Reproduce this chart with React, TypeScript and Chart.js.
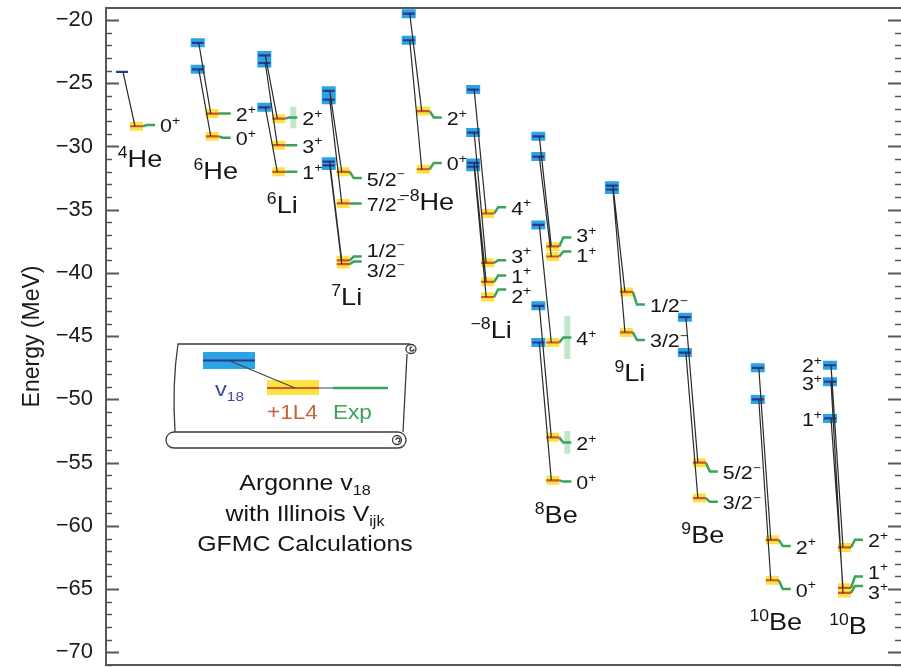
import React, { useEffect, useRef } from 'react';
import { Chart, registerables } from 'chart.js';

Chart.register(...registerables);

// ---------------- data ----------------
const nucleusMass = ['4', '6', '6', '7', '−8', '−8', '8', '9', '9', '10', '10'];
const nucleusSymbol = ['He', 'He', 'Li', 'Li', 'He', 'Li', 'Be', 'Li', 'Be', 'Be', 'B'];
// position of each nucleus on the (hidden) horizontal axis
const nucleusX = [0, 1.07, 2.01, 2.92, 4.05, 4.96, 5.88, 6.92, 7.95, 8.98, 10];

const levelNucleus = [0, 1, 1, 2, 2, 2, 3, 3, 3, 3, 4, 4, 5, 5, 5, 5, 6, 6, 6, 6, 6, 7, 7, 8, 8, 9, 9, 10, 10, 10];
const levelSpin = ['0+', '2+', '0+', '2+', '3+', '1+', '5/2-', '7/2-', '1/2-', '3/2-', '2+', '0+', '4+', '3+', '1+', '2+', '3+', '1+', '4+', '2+', '0+', '1/2-', '3/2-', '5/2-', '3/2-', '2+', '0+', '2+', '1+', '3+'];
const v18Energy = [-24.1, -21.8, -23.9, -22.8, -23.4, -26.9, -25.6, -26.3, -31.2, -31.5, -19.5, -21.6, -25.5, -28.9, -31.3, -31.6, -29.2, -30.8, -36.2, -42.6, -45.5, -33.1, -33.4, -43.5, -46.3, -47.5, -50.0, -47.3, -51.5, -48.6];
const v18Error = [0, 0.35, 0.35, 0.35, 0.35, 0.35, 0.35, 0.35, 0.35, 0.35, 0.35, 0.35, 0.35, 0.35, 0.35, 0.35, 0.35, 0.35, 0.35, 0.35, 0.35, 0.35, 0.35, 0.35, 0.35, 0.35, 0.35, 0.35, 0.35, 0.35];
const il4Energy = [-28.4, -27.4, -29.2, -27.8, -29.9, -32.0, -32.0, -34.5, -39.0, -39.3, -27.2, -31.8, -35.3, -39.2, -40.7, -41.9, -37.9, -38.7, -45.5, -53.0, -56.4, -41.5, -44.7, -55.0, -57.8, -61.1, -64.3, -61.7, -64.9, -65.3];
const expEnergy = [-28.3, -27.4, -29.3, -27.7, -29.9, -32.0, -32.5, -34.5, -38.7, -39.1, -27.7, -31.3, -34.8, -39.0, -40.2, -41.3, -37.2, -38.3, -45.1, -53.4, -56.5, -42.5, -45.3, -55.7, -58.1, -61.6, -65.0, -61.1, -64.0, -64.75];
const expWidth = [0, 0, 0, 1.7, 0, 0, 0, 0, 0, 0, 0, 0, 0, 0, 0, 0, 0, 0, 3.4, 1.8, 0, 0, 0, 0, 0, 0, 0, 0, 0, 0];
const v18LabelledNuclei = [10];
const energyTicks = [-70, -65, -60, -55, -50, -45, -40, -35, -30, -25, -20];

// ---------------- layout / style constants ----------------
const FONT = "'Liberation Sans', Arial, Helvetica, sans-serif";
const SX = 1.13; // horizontal stretch of the lettering
const PXU = 70.8; // pixels per unit on the hidden x axis
const X_MIN = -16 / PXU;
const X_MAX = 10 + 71 / PXU;
const Y_MIN = -71;
const Y_MAX = -19.05;
const off = (px: number) => px / PXU;
const INSET_X = off(178 - 122);
const INSET_Y = -45.62;

type Pt = { x: number; y: number | null };

function segs(list: number[][]): Pt[] {
  const out: Pt[] = [];
  list.forEach((s) => {
    for (let k = 0; k < s.length; k += 2) out.push({ x: s[k], y: s[k + 1] });
    out.push({ x: s[s.length - 2], y: null });
  });
  return out;
}

const idx = levelNucleus.map((_, i) => i);
const cx = (i: number) => nucleusX[levelNucleus[i]];

const v18BandData = segs(idx.filter((i) => v18Error[i] > 0).map((i) => [cx(i) + off(-7), v18Energy[i], cx(i) + off(7), v18Energy[i]]));
const v18LineData = segs(idx.map((i) => [cx(i) + off(-6), v18Energy[i], cx(i) + off(6), v18Energy[i]]));
const il4BandData = segs(idx.map((i) => [cx(i) + off(8), il4Energy[i], cx(i) + off(21), il4Energy[i]]));
const il4LineData = segs(idx.map((i) => [cx(i) + off(8), il4Energy[i], cx(i) + off(21), il4Energy[i]]));
const expLineData = segs(idx.map((i) => [cx(i) + off(21), il4Energy[i], cx(i) + off(25), expEnergy[i], cx(i) + off(33), expEnergy[i]]));
const expWidthData = segs(idx.filter((i) => expWidth[i] > 0).map((i) => [cx(i) + off(29), expEnergy[i] - expWidth[i] / 2, cx(i) + off(29), expEnergy[i] + expWidth[i] / 2]));
const connectorData = segs(idx.map((i) => [cx(i) + off(1), v18Energy[i], cx(i) + off(13), il4Energy[i]]));

type Part = { t: string; sup?: boolean; sub?: boolean };

function drawRich(ctx: CanvasRenderingContext2D, parts: Part[], x: number, y: number, size: number, align: 'left' | 'center' | 'right', color: string) {
  const small = size * 0.65;
  ctx.save();
  ctx.fillStyle = color;
  ctx.textBaseline = 'alphabetic';
  ctx.textAlign = 'left';
  let w = 0;
  const widths = parts.map((p) => {
    ctx.font = `${p.sup || p.sub ? small : size}px ${FONT}`;
    const m = ctx.measureText(p.t).width;
    w += m;
    return m;
  });
  const start = align === 'left' ? 0 : align === 'center' ? -w / 2 : -w;
  ctx.translate(x, y);
  ctx.scale(SX, 1);
  let px = start;
  parts.forEach((p, k) => {
    ctx.font = `${p.sup || p.sub ? small : size}px ${FONT}`;
    const dy = p.sup ? -size * 0.38 : p.sub ? size * 0.22 : 0;
    ctx.fillText(p.t, px, dy);
    px += widths[k];
  });
  ctx.restore();
}

function spinParts(s: string): Part[] {
  const sign = s.slice(-1);
  return [{ t: s.slice(0, -1) }, { t: sign === '+' ? '+' : '−', sup: true }];
}

function spread(items: { y: number }[], minGap: number) {
  items.sort((a, b) => a.y - b.y);
  for (let it = 0; it < 30; it++) {
    for (let k = 1; k < items.length; k++) {
      const gap = items[k].y - items[k - 1].y;
      if (gap < minGap) {
        const s = (minGap - gap) / 2;
        items[k - 1].y -= s;
        items[k].y += s;
      }
    }
  }
}

const frameAndTicks = {
  id: 'frameAndTicks',
  beforeDatasetsDraw(chart: any) {
    const { ctx, chartArea } = chart;
    const ys = chart.scales.y;
    const { left, right, top, bottom } = chartArea;
    ctx.save();
    ctx.strokeStyle = '#5e5656';
    ctx.lineWidth = 2;
    ctx.beginPath();
    ctx.moveTo(right, top);
    ctx.lineTo(left, top);
    ctx.lineTo(left, bottom);
    ctx.lineTo(right, bottom);
    ctx.stroke();
    for (let v = Math.ceil(Y_MIN); v <= Math.floor(Y_MAX); v++) {
      const y = Math.round(ys.getPixelForValue(v)) + 0.5;
      const major = v % 5 === 0;
      const len = major ? 13 : 6;
      ctx.lineWidth = major ? 2 : 1.6;
      ctx.beginPath();
      ctx.moveTo(left, y);
      ctx.lineTo(left + len, y);
      ctx.moveTo(right, y);
      ctx.lineTo(right - len, y);
      ctx.stroke();
    }
    ctx.restore();
  },
};

const labelsPlugin = {
  id: 'labelsPlugin',
  afterDatasetsDraw(chart: any) {
    const { ctx } = chart;
    const xs = chart.scales.x;
    const ys = chart.scales.y;
    const X = (v: number) => xs.getPixelForValue(v);
    const Y = (v: number) => ys.getPixelForValue(v);
    const ink = '#151515';

    nucleusX.forEach((nx, n) => {
      const lv = idx.filter((i) => levelNucleus[i] === n);
      const c = X(nx);
      // spin labels next to the experimental levels
      const items = lv.map((i) => ({ i, y: Y(expEnergy[i]) }));
      spread(items, 20);
      items.forEach((it) => drawRich(ctx, spinParts(levelSpin[it.i]), c + 38, it.y + 7.5, 19, 'left', ink));
      if (v18LabelledNuclei.includes(n)) {
        const vi = lv.map((i) => ({ i, y: Y(v18Energy[i]) }));
        spread(vi, 18);
        vi.forEach((it) => drawRich(ctx, spinParts(levelSpin[it.i]), c - 8, it.y + 7.5, 19, 'right', ink));
      }
      // nucleus name below the lowest level
      let low = -Infinity;
      lv.forEach((i) => {
        low = Math.max(low, Y(v18Energy[i]), Y(il4Energy[i]), Y(expEnergy[i]));
      });
      drawRich(ctx, [{ t: nucleusMass[n], sup: true }, { t: nucleusSymbol[n] }], c + 18, low + 41, 24, 'center', ink);
    });

    // ---- inset legend (scroll) ----
    const ax = X(INSET_X);
    const ay = Y(INSET_Y);
    ctx.save();
    ctx.strokeStyle = '#3c3c3c';
    ctx.lineWidth = 1.3;
    ctx.beginPath();
    ctx.moveTo(ax + 232, ay);
    ctx.lineTo(ax, ay);
    ctx.quadraticCurveTo(ax - 6, ay + 40, ax - 3, ay + 88);
    ctx.stroke();
    ctx.beginPath();
    ctx.ellipse(ax + 233, ay + 5, 5, 4.5, 0, 0, Math.PI * 2);
    ctx.stroke();
    ctx.beginPath();
    ctx.arc(ax + 234, ay + 5, 2, 0, Math.PI * 1.5);
    ctx.stroke();
    ctx.beginPath();
    ctx.moveTo(ax + 229, ay + 10);
    ctx.lineTo(ax + 225, ay + 88);
    ctx.stroke();
    const x0 = ax - 12, x1 = ax + 228, y0 = ay + 88, y1 = ay + 104, r = 8;
    ctx.beginPath();
    ctx.moveTo(x0 + r, y0);
    ctx.lineTo(x1 - r, y0);
    ctx.arc(x1 - r, y0 + r, r, -Math.PI / 2, Math.PI / 2);
    ctx.lineTo(x0 + r, y1);
    ctx.arc(x0 + r, y0 + r, r, Math.PI / 2, (3 * Math.PI) / 2);
    ctx.stroke();
    ctx.beginPath();
    ctx.arc(x1 - 9, y0 + 8, 4.5, 0, Math.PI * 2);
    ctx.stroke();
    ctx.beginPath();
    ctx.arc(x1 - 8, y0 + 8, 2, Math.PI, Math.PI * 2.5);
    ctx.stroke();

    // legend marks
    ctx.fillStyle = '#2ba4e6';
    ctx.fillRect(ax + 25, ay + 8, 52, 17);
    ctx.fillStyle = '#fbe346';
    ctx.fillRect(ax + 89, ay + 36, 52, 15);
    ctx.lineWidth = 2.2;
    ctx.strokeStyle = '#2b3a8a';
    ctx.beginPath();
    ctx.moveTo(ax + 25, ay + 16.5);
    ctx.lineTo(ax + 77, ay + 16.5);
    ctx.stroke();
    ctx.strokeStyle = '#d5532b';
    ctx.beginPath();
    ctx.moveTo(ax + 89, ay + 44);
    ctx.lineTo(ax + 141, ay + 44);
    ctx.stroke();
    ctx.strokeStyle = '#3aa35a';
    ctx.lineWidth = 2.5;
    ctx.beginPath();
    ctx.moveTo(ax + 155, ay + 44);
    ctx.lineTo(ax + 210, ay + 44);
    ctx.stroke();
    ctx.strokeStyle = '#444';
    ctx.lineWidth = 1.2;
    ctx.beginPath();
    ctx.moveTo(ax + 51, ay + 16.5);
    ctx.lineTo(ax + 117, ay + 44);
    ctx.moveTo(ax + 141, ay + 44);
    ctx.lineTo(ax + 155, ay + 44);
    ctx.stroke();
    ctx.restore();

    drawRich(ctx, [{ t: 'v' }, { t: '18', sub: true }], ax + 37, ay + 52, 21, 'left', '#3d4d9c');
    drawRich(ctx, [{ t: '+1L4' }], ax + 89, ay + 75, 20, 'left', '#c8643c');
    drawRich(ctx, [{ t: 'Exp' }], ax + 155, ay + 75, 20, 'left', '#3aa35a');

    const tx = ax + 127;
    drawRich(ctx, [{ t: 'Argonne v' }, { t: '18', sub: true }], tx, ay + 146, 22, 'center', ink);
    drawRich(ctx, [{ t: 'with Illinois V' }, { t: 'ijk', sub: true }], tx, ay + 177, 22, 'center', ink);
    drawRich(ctx, [{ t: 'GFMC Calculations' }], tx, ay + 207, 22, 'center', ink);
  },
};

function lineDs(data: Pt[], color: string, width: number, order: number) {
  return {
    data,
    borderColor: color,
    backgroundColor: color,
    borderWidth: width,
    pointRadius: 0,
    pointHoverRadius: 0,
    tension: 0,
    spanGaps: false,
    fill: false,
    borderCapStyle: 'butt' as const,
    order,
  };
}

export default function App() {
  const ref = useRef<HTMLCanvasElement>(null);
  useEffect(() => {
    document.body.style.margin = '0';
    const chart = new Chart(ref.current as HTMLCanvasElement, {
      type: 'line',
      data: {
        datasets: [
          lineDs(connectorData, '#2a2a2a', 1.2, 1),
          lineDs(il4LineData, '#d5532b', 2.2, 2),
          lineDs(v18LineData, '#2b3a8a', 2.2, 2),
          lineDs(expLineData, '#3aa35a', 2.5, 4),
          lineDs(expWidthData, 'rgba(120,200,135,0.45)', 6, 7),
          lineDs(il4BandData, '#fbe346', 9, 8),
          lineDs(v18BandData, '#2ba4e6', 9, 8),
        ] as any,
      },
      options: {
        responsive: false,
        devicePixelRatio: 1,
        animation: false,
        events: [],
        layout: { padding: { top: 8, bottom: 2, left: 0, right: 0 } },
        plugins: { legend: { display: false }, tooltip: { enabled: false } },
        scales: {
          x: { type: 'linear', min: X_MIN, max: X_MAX, display: false },
          y: {
            type: 'linear',
            min: Y_MIN,
            max: Y_MAX,
            afterBuildTicks: (s: any) => {
              s.ticks = energyTicks.map((v) => ({ value: v }));
            },
            afterFit: (s: any) => {
              s.width = 106;
              s.paddingTop = 0;
              s.paddingBottom = 0;
            },
            grid: { display: false, drawTicks: false },
            border: { display: false },
            ticks: {
              padding: 13,
              color: '#1a1a1a',
              font: { family: FONT, size: 22 },
              callback: (v: any) => (Number(v) < 0 ? '−' + Math.abs(Number(v)) : String(v)),
            },
            title: {
              display: true,
              text: 'Energy (MeV)',
              color: '#1a1a1a',
              font: { family: FONT, size: 23 },
              padding: { top: 19, bottom: 0 },
            },
          },
        },
      } as any,
      plugins: [frameAndTicks, labelsPlugin],
    });
    return () => chart.destroy();
  }, []);
  return <canvas ref={ref} width={901} height={667} style={{ display: 'block' }} />;
}
